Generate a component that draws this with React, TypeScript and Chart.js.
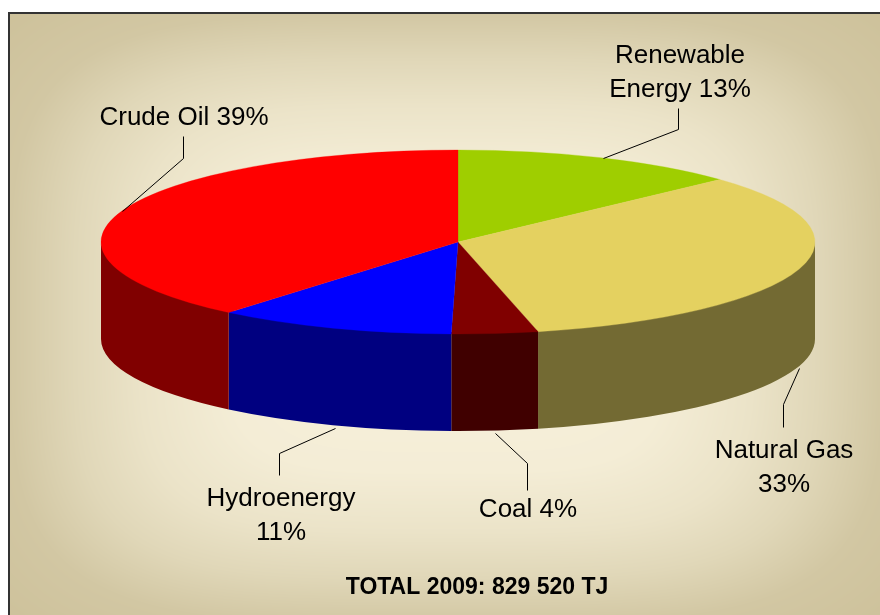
import { useEffect, useRef } from "react";
import { Chart, registerables } from "chart.js";

Chart.register(...registerables);

const categories = ["Renewable Energy", "Natural Gas", "Coal", "Hydroenergy", "Crude Oil"];
const shares = [13.1, 33.3, 3.9, 10.8, 38.9];
const topColors = ["#9fce00", "#e4d160", "#800000", "#0000ff", "#ff0000"];
const wallColors = ["#507000", "#736a33", "#400000", "#000080", "#800000"];
const totalLabel = "TOTAL 2009: 829 520 TJ";

const FONT = '"Liberation Sans", Arial, sans-serif';
const CX = 458;
const CY = 242;
const RX = 357;
const RY = 92;
const DEPTH = 97;

// label placement, in the order of categories
const callouts = [
  { x: 680, y: 56, firstLineWords: 1, line: [[603, 158], [678, 129], [678, 108]] },
  { x: 784, y: 451, firstLineWords: 2, line: [[799, 368], [783, 404], [783, 427]] },
  { x: 528, y: 510, firstLineWords: 3, line: [[495, 433], [527, 463], [527, 490]] },
  { x: 281, y: 499, firstLineWords: 1, line: [[335, 428], [279, 453], [279, 475]] },
  { x: 184, y: 118, firstLineWords: 3, line: [[122, 211], [183, 158], [183, 136]] },
];

// brightness ramp of the backdrop: [distance from centre, r, g, b]
const ramp = [
  [0, 248, 241, 222],
  [0.5, 244, 237, 214],
  [0.7, 235, 227, 200],
  [0.85, 224, 215, 184],
  [1.0, 210, 199, 163],
  [1.2, 205, 193, 154],
];

const background = {
  id: "frameBackground",
  beforeDraw(chart: any) {
    const ctx = chart.ctx;
    const W = 880, H = 615, L = 9, T = 13, MX = 446, MY = 318, HW = 437, HH = 305;
    const img = ctx.createImageData(W, H);
    for (let y = 0; y < H; y++) {
      for (let x = 0; x < W; x++) {
        const o = (y * W + x) * 4;
        img.data[o + 3] = 255;
        if (x < L || y < T) {
          img.data[o] = img.data[o + 1] = img.data[o + 2] = 255;
          continue;
        }
        const u = Math.abs(x - MX) / HW;
        const v = Math.abs(y - MY) / HH;
        const t = Math.min(1.2, Math.pow(u ** 4 + v ** 4, 0.25));
        let k = 1;
        while (k < ramp.length - 1 && ramp[k][0] < t) k++;
        const a = ramp[k - 1], b = ramp[k];
        const f = (t - a[0]) / (b[0] - a[0]);
        for (let c = 0; c < 3; c++) img.data[o + c] = a[c + 1] + (b[c + 1] - a[c + 1]) * f;
      }
    }
    ctx.putImageData(img, 0, 0);
    ctx.save();
    ctx.strokeStyle = "#333333";
    ctx.lineWidth = 2;
    ctx.beginPath();
    ctx.moveTo(9, 640);
    ctx.lineTo(9, 13);
    ctx.lineTo(900, 13);
    ctx.stroke();
    ctx.restore();
  },
};

const squash = {
  id: "squashPie",
  beforeDatasetsDraw(chart: any) {
    const ctx = chart.ctx;
    const arcs = chart.getDatasetMeta(0).data;
    // side walls: only the part of every slice that faces the viewer
    arcs.forEach((arc: any, i: number) => {
      const twoPi = Math.PI * 2;
      for (const shift of [0, -twoPi]) {
        const a = Math.max(arc.startAngle + shift, 0);
        const b = Math.min(arc.endAngle + shift, Math.PI);
        if (b <= a) continue;
        ctx.beginPath();
        ctx.ellipse(CX, CY + DEPTH, RX, RY, 0, a, b, false);
        ctx.ellipse(CX, CY - 2, RX, RY, 0, b, a, true);
        ctx.closePath();
        ctx.fillStyle = wallColors[i];
        ctx.fill();
      }
    });
    ctx.save();
    ctx.translate(CX, CY);
    ctx.scale(1, RY / RX);
    ctx.translate(-CX, -CY);
  },
  afterDatasetsDraw(chart: any) {
    chart.ctx.restore();
  },
};

const callout = {
  id: "callouts",
  afterDraw(chart: any) {
    const ctx = chart.ctx;
    ctx.save();
    ctx.strokeStyle = "#000000";
    ctx.lineWidth = 1;
    ctx.fillStyle = "#000000";
    ctx.textAlign = "center";
    ctx.textBaseline = "middle";
    ctx.font = `26px ${FONT}`;
    categories.forEach((name, i) => {
      const c = callouts[i];
      ctx.beginPath();
      c.line.forEach(([x, y], k) => (k ? ctx.lineTo(x + 0.5, y + 0.5) : ctx.moveTo(x + 0.5, y + 0.5)));
      ctx.stroke();
      const words = `${name} ${Math.round(shares[i])}%`.split(" ");
      const first = words.slice(0, c.firstLineWords).join(" ");
      const second = words.slice(c.firstLineWords).join(" ");
      ctx.fillText(first, c.x, c.y);
      if (second) ctx.fillText(second, c.x, c.y + 34);
    });
    ctx.font = `bold 23px ${FONT}`;
    ctx.fillText(totalLabel, 477, 588);
    ctx.restore();
  },
};

export default function App() {
  const ref = useRef<HTMLCanvasElement>(null);
  useEffect(() => {
    document.body.style.margin = "0";
    document.body.style.background = "#ffffff";
    const chart = new Chart(ref.current as HTMLCanvasElement, {
      type: "pie",
      data: {
        labels: categories,
        datasets: [
          {
            data: shares,
            backgroundColor: topColors,
            borderColor: topColors,
            borderWidth: 0.5,
            radius: RX,
            clip: false,
          } as any,
        ],
      },
      options: {
        animation: false,
        responsive: false,
        events: [],
        layout: { padding: { left: 2 * CX - 880, top: 0, right: 0, bottom: 615 - 2 * CY } },
        plugins: { legend: { display: false }, tooltip: { enabled: false } },
      },
      plugins: [background, squash, callout],
    });
    return () => chart.destroy();
  }, []);
  return (
    <canvas
      ref={ref}
      width={880}
      height={615}
      style={{ position: "absolute", left: 0, top: 0, width: 880, height: 615, display: "block" }}
    />
  );
}
